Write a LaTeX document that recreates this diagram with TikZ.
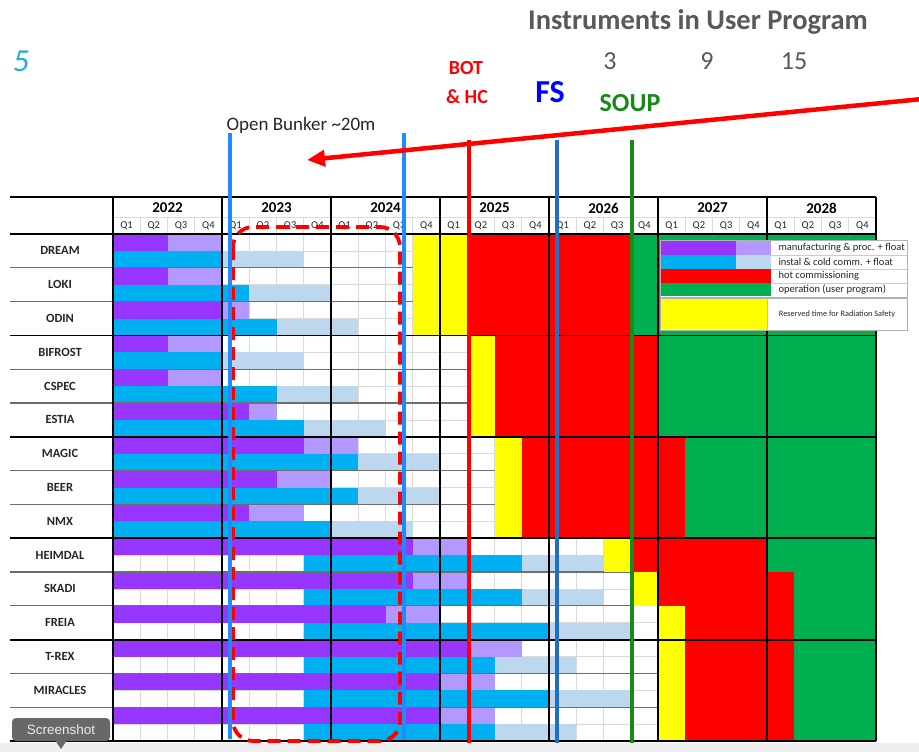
\documentclass[tikz,border=0pt]{standalone}
\usepackage{fontspec}
\setmainfont{Carlito}
\newfontfamily\uifont{Liberation Sans}
\usetikzlibrary{arrows.meta}
\definecolor{mpurple}{HTML}{9636FF}
\definecolor{lpurple}{HTML}{B399FF}
\definecolor{mcyan}{HTML}{00B0F0}
\definecolor{lblue}{HTML}{BDD7EE}
\definecolor{mred}{HTML}{FF0000}
\definecolor{mgreen}{HTML}{00B050}
\definecolor{myellow}{HTML}{FFFF00}
\definecolor{bunkerblue}{HTML}{1E8CFF}
\definecolor{fsblue}{HTML}{1F6FC5}
\definecolor{soupgreen}{HTML}{178A17}
\definecolor{gridgray}{HTML}{DADADA}
\definecolor{rowgray}{HTML}{6E6E6E}
\definecolor{txtgray}{HTML}{262626}
\definecolor{titlegray}{HTML}{595959}
\definecolor{stripgray}{HTML}{EFEFEF}
\definecolor{tipgray}{HTML}{686868}
\definecolor{fivecol}{HTML}{29A8E0}
\newcommand{\gbar}[5]{\fill[#5] ({113+27.25*#3},{234+33.8*#1+16.9*#2}) rectangle ({113+27.25*#4},{234+33.8*#1+16.9*(#2+1)});}
\newcommand{\gblk}[5]{\fill[#5] ({113+27.25*#3},{234+33.8*#1}) rectangle ({113+27.25*#4},{234+33.8*(#2+1)});}
\tikzset{
  rowname/.style={font=\bfseries\fontsize{12.5}{12.5}\selectfont, text=txtgray, anchor=center},
  yearlbl/.style={font=\bfseries\fontsize{15}{15}\selectfont, text=black, anchor=center},
  qlbl/.style={font=\fontsize{10.5}{10.5}\selectfont, text=txtgray, anchor=center},
  legtxt/.style={font=\fontsize{10.5}{10.5}\selectfont, text=txtgray, anchor=west},
  milestone/.style={line width=3.8pt},
  gridline/.style={gridgray, line width=0.7pt},
  rowline/.style={rowgray, line width=1.1pt},
  groupline/.style={black, line width=1.8pt},
  yearline/.style={black, line width=1.2pt},
}
\begin{document}
\begin{tikzpicture}[x=1pt,y=-1pt]
\useasboundingbox (0,0) rectangle (919,752);
\fill[white] (0,0) rectangle (919,752);
\fill[stripgray] (0,743) rectangle (919,752);
% light grid
\foreach \q in {1,...,27} \draw[gridline] ({113+27.25*\q},217) -- ({113+27.25*\q},741);
\foreach \r in {0,...,14} \draw[gridline] (113,{234+33.8*\r+16.9}) -- (876,{234+33.8*\r+16.9});
\draw[gridline] (113,217) -- (876,217);
% bars
\foreach \r/\pa/\pb/\ca/\cb/\cc in {0/2/4/0/4/7, 1/2/4/0/5/8, 2/4/5/0/6/9, 3/2/4/0/4/7, 4/2/4/0/6/9, 5/5/6/0/7/10, 6/7/9/0/9/12, 7/6/8/0/9/12, 8/5/7/0/8/11, 9/11/13/7/15/18, 10/11/13/7/15/18, 11/10/12/7/16/19, 12/13/15/7/14/17, 13/12/14/7/16/19, 14/12/14/7/14/17}{
  \gbar{\r}{0}{0}{\pa}{mpurple}
  \gbar{\r}{0}{\pa}{\pb}{lpurple}
  \gbar{\r}{1}{\ca}{\cb}{mcyan}
  \gbar{\r}{1}{\cb}{\cc}{lblue}
}
% instrument row lines
\foreach \r in {1,...,14} \draw[rowline] (10,{234+33.8*\r}) -- (876,{234+33.8*\r});
% yellow / red / green blocks
\foreach \ra/\rb/\ya/\yb/\rc in {0/2/11/13/19, 3/5/13/14/20, 6/8/14/15/21, 9/9/18/19/24, 10/10/19/20/25, 11/14/20/21/25}{
  \gblk{\ra}{\rb}{\ya}{\yb}{myellow}
  \gblk{\ra}{\rb}{\yb}{\rc}{mred}
  \gblk{\ra}{\rb}{\rc}{28}{mgreen}
}
% year lines and group lines
\foreach \i in {0,...,7} \draw[yearline] ({113+109*\i},197) -- ({113+109*\i},741);
\draw[groupline] (10,197) -- (876,197);
\draw[groupline] (10,234) -- (876,234);
\foreach \g in {3,6,9,12} \draw[groupline] (10,{234+33.8*\g}) -- (876,{234+33.8*\g});
\draw[groupline] (10,741) -- (876,741);
% header
\foreach \y [count=\i from 0] in {2022,2023,2024,2025,2026,2027,2028}
  \node[yearlbl] (y\y) at ({113+109*\i+54.5},208) {\y};
\foreach \q [evaluate=\q as \k using {int(mod(\q,4)+1)}] in {0,...,27}
  \node[qlbl] (q\q) at ({113+27.25*(\q+0.5)},226) {Q\k};
% row names
\foreach \r/\nm in {0/DREAM,1/LOKI,2/ODIN,3/BIFROST,4/CSPEC,5/ESTIA,6/MAGIC,7/BEER,8/NMX,9/HEIMDAL,10/SKADI,11/FREIA,12/T-REX,13/MIRACLES}
  \node[rowname] (n\r) at (60,{234+33.8*\r+16.9}) {\nm};
% legend
\fill[white] (660,240) rectangle (907,297);
\draw[gray!60, line width=0.8pt] (660,240) rectangle (907,297);
\foreach \yy in {255,269,283} \draw[gray!40, line width=0.6pt] (771,\yy) -- (907,\yy);
\fill[mpurple] (661,241) rectangle (736,255);
\fill[lpurple] (736,241) rectangle (771,255);
\fill[mcyan] (661,255) rectangle (736,269);
\fill[lblue] (736,255) rectangle (771,269);
\fill[mred] (661,269) rectangle (771,283);
\fill[mgreen] (661,283) rectangle (771,296);
\fill[white] (660,298) rectangle (907,330);
\draw[gray!60, line width=0.8pt] (660,298) rectangle (907,330);
\fill[myellow] (661,299) rectangle (767,329);
\draw[gray!50, line width=0.6pt] (767,298) -- (767,330);
\node[legtxt] (l1) at (775,248) {manufacturing \& proc. + float};
\node[legtxt] (l2) at (775,262) {instal \& cold comm. + float};
\node[legtxt] (l3) at (775,276) {hot commissioning};
\node[legtxt] (l4) at (775,290) {operation (user program)};
\node[font=\fontsize{8.3}{8.3}\selectfont, text=txtgray, anchor=center] (l5) at (837,314) {Reserved time for Radiation Safety};
% dashed bunker box
\draw[mred, line width=3.8pt, dash pattern=on 13pt off 7pt, rounded corners=20pt] (233,227) rectangle (400,741);
% milestone lines
\coordinate (b1t) at (230,133); \coordinate (b1b) at (230,739);
\coordinate (b2t) at (404,133); \coordinate (b2b) at (404,739);
\coordinate (rt) at (469,140); \coordinate (rb) at (469,743);
\coordinate (ft) at (557,140); \coordinate (fb) at (557,743);
\coordinate (gt) at (632,140); \coordinate (gb) at (632,743);
\draw[milestone, bunkerblue] (b1t) -- (b1b);
\draw[milestone, bunkerblue] (b2t) -- (b2b);
\draw[milestone, mred] (rt) -- (rb);
\draw[milestone, fsblue, line width=3.4pt] (ft) -- (fb);
\draw[milestone, soupgreen, line width=3.4pt] (gt) -- (gb);
% arrow
\coordinate (as) at (922,99);
\coordinate (at) at (307,160);
\draw[mred, line width=4.5pt, -{Triangle[length=18pt,width=16pt]}] (as) -- (at);
% top texts
\node[font=\bfseries\fontsize{28.5}{28.5}\selectfont, text=titlegray] (title) at (698,22) {Instruments in User Program};
\node[font=\itshape\fontsize{32}{32}\selectfont, text=fivecol] (five) at (21,61) {5};
\node[font=\fontsize{26}{26}\selectfont, text=titlegray] (c3) at (610,61) {3};
\node[font=\fontsize{26}{26}\selectfont, text=titlegray] (c9) at (707,61) {9};
\node[font=\fontsize{26}{26}\selectfont, text=titlegray] (c15) at (794,61) {15};
\node[font=\bfseries\fontsize{20}{20}\selectfont, text=mred] (bot) at (466,68) {BOT};
\node[font=\bfseries\fontsize{20}{20}\selectfont, text=mred] (hc) at (467,97) {\& HC};
\node[font=\bfseries\fontsize{32}{32}\selectfont, text=blue] (fs) at (550,92) {FS};
\node[font=\bfseries\fontsize{26}{26}\selectfont, text=soupgreen] (soup) at (630,103) {SOUP};
\node[font=\fontsize{19}{19}\selectfont, text=txtgray, anchor=west] (ob) at (223,125) {Open Bunker \textasciitilde 20m};
% screenshot tooltip
\fill[tipgray, rounded corners=4pt] (12,718) rectangle (110,741);
\fill[tipgray] (55,740) -- (67,740) -- (61,749) -- cycle;
\node[font=\uifont\fontsize{13.5}{13.5}\selectfont, text=white!92!black] (tip) at (61,729.5) {Screenshot};
\end{tikzpicture}
\end{document}
